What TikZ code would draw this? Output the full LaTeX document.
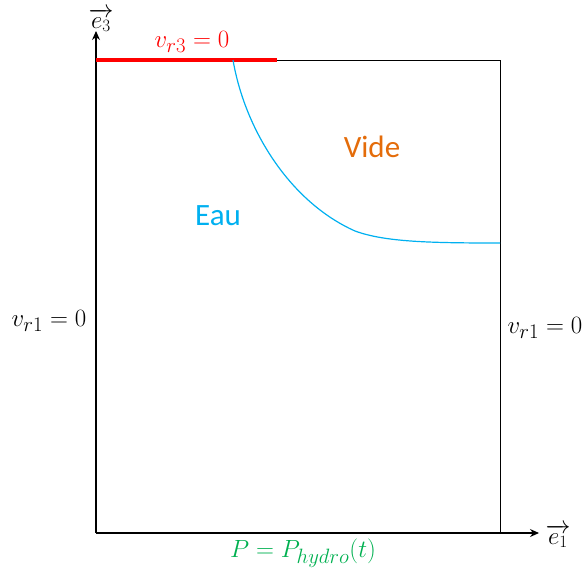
\documentclass[tikz,border=0pt]{standalone}
\usepackage{amsmath}
\usepackage{fontspec}
\usetikzlibrary{arrows.meta}
\newfontfamily\calib{Carlito}
\definecolor{wallred}{RGB}{255,0,0}
\definecolor{eaublue}{RGB}{0,176,240}
\definecolor{videorange}{RGB}{228,108,10}
\definecolor{bcgreen}{RGB}{0,176,80}

\begin{document}
\begin{tikzpicture}[
  x=1pt, y=-1pt,
  axis/.style={-{Stealth[length=9pt,width=8pt]}, line width=1.1pt},
  side/.style={line width=1pt},
  wall/.style={line width=3.5pt, wallred},
  surf/.style={line width=1.2pt, eaublue},
  mlbl/.style={font=\fontsize{29}{34}\selectfont, inner sep=0pt},
  vlbl/.style={font=\fontsize{24}{29}\selectfont, inner sep=0pt},
  tlbl/.style={font=\calib\fontsize{31}{36}\selectfont, inner sep=0pt}
]
\useasboundingbox (0,0) rectangle (585,574);
\coordinate (O) at (96,533);
\coordinate (e3tip) at (96,31);
\coordinate (e1tip) at (539,533);
\coordinate (tl) at (96,60);
\coordinate (tr) at (500,60);
\coordinate (br) at (500,533);
\coordinate (wallend) at (277,60);
\coordinate (s0) at (233,60);
\coordinate (s1) at (355,231);
\coordinate (s2) at (500,243);

% domain
\draw[side] (tl) -- (tr) -- (br);
\draw[axis] (O) -- (e3tip);
\draw[axis] (O) -- (e1tip);
\draw[wall] (tl) -- (wallend);
\draw[surf] (s0) .. controls (245,130) and (290,202) .. (s1)
  .. controls (385,242) and (430,243) .. (s2);

% labels
\node[vlbl] (e3) at (101,20) {$\overrightarrow{e_3}$};
\node[vlbl] (e1) at (558,536) {$\overrightarrow{e_1}$};
\node[mlbl, text=wallred] (vr3) at (192,42) {$v_{r3}=0$};
\node[mlbl] (vr1l) at (49,321) {$v_{r1}=0$};
\node[mlbl] (vr1r) at (545,328) {$v_{r1}=0$};
\node[mlbl, font=\fontsize{28}{33}\selectfont, text=bcgreen] (phydro) at (303,553) {$P=P_{hydro}(t)$};
\node[tlbl, text=videorange] (vide) at (372,147) {Vide};
\node[tlbl, text=eaublue] (eau) at (218,216) {Eau};
\end{tikzpicture}
\end{document}
